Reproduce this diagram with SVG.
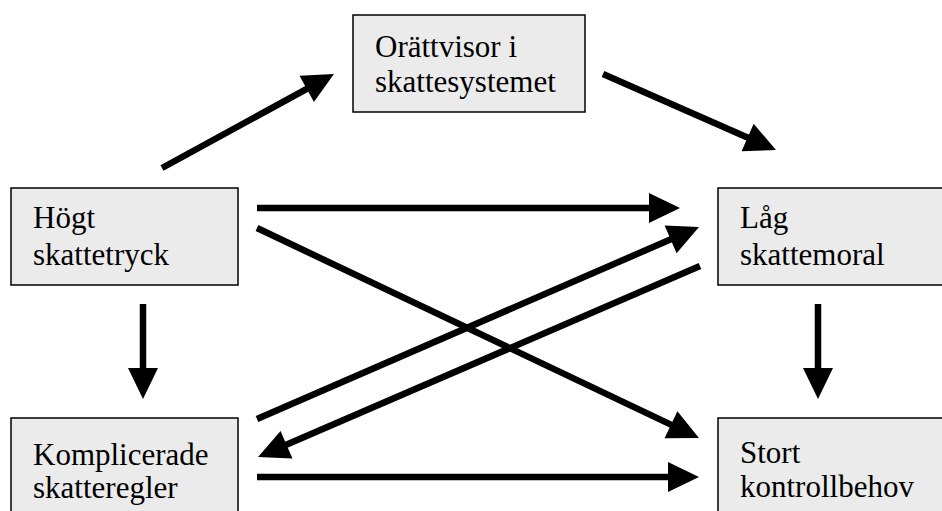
<svg xmlns="http://www.w3.org/2000/svg" width="942" height="511" viewBox="0 0 942 511">
<style>
.box{fill:#ebebeb;stroke:#000;stroke-width:1.5}
.t{font-family:'Liberation Serif',Tinos,'Times New Roman','DejaVu Serif',serif;font-size:31px;fill:#000}
.c{stroke:#000;stroke-width:6.5;fill:none;marker-end:url(#ah)}
</style>
<defs>
<marker id="ah" markerUnits="userSpaceOnUse" markerWidth="32" markerHeight="32" refX="11" refY="15" orient="auto" viewBox="0 0 32 30" overflow="visible">
<path d="M0,0 L31,15 L0,30 z" fill="#000"/>
</marker>
</defs>
<rect width="942" height="511" fill="#fff"/>
<g id="connectors">
<line class="c" x1="162" y1="168" x2="316.4" y2="83.6"/>
<line class="c" x1="603" y1="74" x2="757.7" y2="142"/>
<line class="c" x1="257" y1="208" x2="660" y2="208"/>
<line class="c" x1="257" y1="228" x2="680.9" y2="429.4"/>
<line class="c" x1="257" y1="419" x2="680.7" y2="235"/>
<line class="c" x1="700" y1="266" x2="276.4" y2="449.1"/>
<line class="c" x1="257" y1="477" x2="679" y2="477"/>
<line class="c" x1="143" y1="304" x2="143" y2="379"/>
<line class="c" x1="818" y1="304" x2="818" y2="379"/>
</g>
<g id="orattvisor">
<rect class="box" x="353" y="15" width="232" height="97"/>
<text class="t" x="375" y="57" font-family="Liberation Serif, serif">Orättvisor i</text>
<text class="t" x="375" y="92" font-family="Liberation Serif, serif">skattesystemet</text>
</g>
<g id="hogt">
<rect class="box" x="11" y="188" width="227" height="97"/>
<text class="t" x="33" y="228">Högt</text>
<text class="t" x="33" y="265">skattetryck</text>
</g>
<g id="lag">
<rect class="box" x="718" y="188" width="240" height="97"/>
<text class="t" x="740" y="228">Låg</text>
<text class="t" x="740" y="265">skattemoral</text>
</g>
<g id="komplicerade">
<rect class="box" x="11" y="418" width="227" height="110"/>
<text class="t" x="33" y="465">Komplicerade</text>
<text class="t" x="33" y="498">skatteregler</text>
</g>
<g id="stort">
<rect class="box" x="718" y="418" width="240" height="110"/>
<text class="t" x="740" y="463">Stort</text>
<text class="t" x="740" y="497">kontrollbehov</text>
</g>
</svg>
